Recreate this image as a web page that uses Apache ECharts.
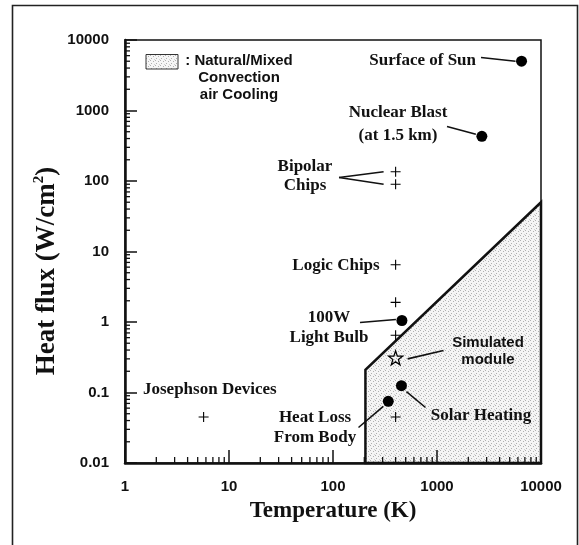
<!DOCTYPE html>
<html>
<head>
<meta charset="utf-8">
<script src="https://cdn.jsdelivr.net/npm/echarts@6/dist/echarts.min.js"></script>
<style>
  html, body { margin: 0; padding: 0; background: #fff; }
  #chart { width: 579px; height: 545px; }
</style>
</head>
<body>
<div id="chart"></div>
<script>
// Heat flux vs. temperature for everyday and electronic heat sources
const xTickLabels = ['1', '10', '100', '1000', '10000'];
const yTickLabels = ['0.01', '0.1', '1', '10', '100', '1000', '10000'];

// Filled circles: named heat sources
const circleNames = ['Surface of Sun', 'Nuclear Blast', '100W Light Bulb', 'Solar Heating', 'Heat Loss From Body'];
const circleTemps = [6500, 2700, 460, 455, 340];
const circleFlux  = [5000, 430, 1.05, 0.125, 0.075];

// Crosses: chip technologies
const plusNames = ['Bipolar (high)', 'Bipolar (low)', 'Logic Chips', 'Chip', 'Chip', 'Chip', 'Josephson Devices'];
const plusTemps = [400, 400, 400, 400, 400, 400, 5.7];
const plusFlux  = [135, 90, 6.5, 1.9, 0.65, 0.045, 0.045];

// Star: simulated module
const starTemps = [400];
const starFlux  = [0.31];

// Natural / mixed convection air cooling region boundary
const regionTemps = [205, 205, 10000, 10000];
const regionFlux  = [0.01, 0.21, 50, 0.01];

const SERIF = '"Liberation Serif", "Times New Roman", serif';
const SANS = '"Liberation Sans", Arial, sans-serif';
const INK = '#111';

// light stippled fill used for the cooling region and its legend swatch
function makeStipple() {
  const c = document.createElement('canvas');
  c.width = 5; c.height = 5;
  const g = c.getContext('2d');
  g.fillStyle = '#f5f5f5';
  g.fillRect(0, 0, 5, 5);
  g.fillStyle = '#b0b0b0';
  g.fillRect(0, 0, 1, 1);
  g.fillRect(3, 1, 1, 1);
  g.fillRect(1, 3, 1, 1);
  g.fillStyle = '#d0d0d0';
  g.fillRect(4, 4, 1, 1);
  return c;
}
const stipple = { image: makeStipple(), repeat: 'repeat' };

// Minor tick positions for the log axes (2..9 within each decade)
function minorTicks(fromExp, toExp) {
  const out = [];
  for (let e = fromExp; e < toExp; e++) {
    for (let m = 2; m <= 9; m++) out.push(m * Math.pow(10, e));
  }
  return out;
}
const xMinor = minorTicks(0, 4);
const yMinor = minorTicks(-2, 4);

const X_MIN = 1, X_MAX = 10000, Y_MIN = 0.01, Y_MAX = 10000;

const plusPath = 'path://M0,5L10,5M5,0L5,10';
const starPath = 'path://M10,0L12.35,6.76L19.51,6.91L13.8,11.24L15.88,18.09L10,14L4.12,18.09L6.2,11.24L0.49,6.91L7.65,6.76Z';

const chart = echarts.init(document.getElementById('chart'), null, { renderer: 'canvas' });

const option = {
  animation: false,
  backgroundColor: '#fff',
  grid: {
    left: 125, right: 38, top: 40, bottom: 82,
    show: true, borderColor: INK, borderWidth: 1.5, backgroundColor: 'transparent'
  },
  xAxis: {
    type: 'log', logBase: 10, min: X_MIN, max: X_MAX, splitNumber: 4, z: 10,
    axisLine: { lineStyle: { color: INK, width: 2.5 } },
    axisTick: { inside: true, length: 13, lineStyle: { color: INK, width: 1.5 } },
    splitLine: { show: false },
    axisLabel: {
      margin: 16, color: INK, fontFamily: SANS, fontWeight: 'bold', fontSize: 15,
      formatter: v => xTickLabels[Math.round(Math.log10(v))]
    },
    name: 'Temperature (K)', nameLocation: 'middle', nameGap: 37,
    nameTextStyle: { color: INK, fontFamily: SERIF, fontWeight: 'bold', fontSize: 23 }
  },
  yAxis: {
    type: 'log', logBase: 10, min: Y_MIN, max: Y_MAX, splitNumber: 6, z: 10,
    axisLine: { lineStyle: { color: INK, width: 2.5 } },
    axisTick: { inside: true, length: 12, lineStyle: { color: INK, width: 1.5 } },
    splitLine: { show: false },
    axisLabel: {
      margin: 16, color: INK, fontFamily: SANS, fontWeight: 'bold', fontSize: 15,
      formatter: v => yTickLabels[Math.round(Math.log10(v)) + 2]
    }
  },
  series: [
    {
      // shaded air-cooling region
      type: 'custom', name: 'Natural/Mixed Convection air Cooling', z: 1, silent: true,
      data: regionTemps.map((t, i) => [t, regionFlux[i]]),
      renderItem: (params, api) => {
        if (params.dataIndex !== 0) return null;
        const pts = regionTemps.map((t, i) => api.coord([t, regionFlux[i]]));
        return {
          type: 'polygon',
          shape: { points: pts },
          style: { fill: stipple, stroke: INK, lineWidth: 2.5, lineJoin: 'miter' }
        };
      }
    },
    {
      // x minor ticks
      type: 'custom', z: 11, silent: true,
      data: xMinor.map(v => [v, Y_MIN]),
      renderItem: (params, api) => {
        const p = api.coord([api.value(0), Y_MIN]);
        return { type: 'line', shape: { x1: p[0], y1: p[1], x2: p[0], y2: p[1] - 6 },
                 style: { stroke: INK, lineWidth: 1.3 } };
      }
    },
    {
      // y minor ticks
      type: 'custom', z: 11, silent: true,
      data: yMinor.map(v => [X_MIN, v]),
      renderItem: (params, api) => {
        const p = api.coord([X_MIN, api.value(1)]);
        return { type: 'line', shape: { x1: p[0], y1: p[1], x2: p[0] + 5, y2: p[1] },
                 style: { stroke: INK, lineWidth: 1.3 } };
      }
    },
    {
      type: 'scatter', name: 'Heat sources', z: 5,
      symbol: 'circle', symbolSize: 11,
      itemStyle: { color: '#000', opacity: 1 },
      data: circleTemps.map((t, i) => ({ name: circleNames[i], value: [t, circleFlux[i]] }))
    },
    {
      type: 'scatter', name: 'Chips', z: 5,
      symbol: plusPath, symbolSize: 10,
      itemStyle: { color: 'transparent', borderColor: '#000', borderWidth: 1.1, opacity: 1 },
      data: plusTemps.map((t, i) => ({ name: plusNames[i], value: [t, plusFlux[i]] }))
    },
    {
      type: 'scatter', name: 'Simulated module', z: 6,
      symbol: starPath, symbolSize: 14,
      itemStyle: { color: 'transparent', borderColor: '#000', borderWidth: 1.3, opacity: 1 },
      data: starTemps.map((t, i) => [t, starFlux[i]])
    }
  ]
};

chart.setOption(option);

// Annotations and leader lines
const toPx = v => chart.convertToPixel({ gridIndex: 0 }, v);
const circlePx = i => toPx([circleTemps[i], circleFlux[i]]);
const plusPx = i => toPx([plusTemps[i], plusFlux[i]]);
const starPx = i => toPx([starTemps[i], starFlux[i]]);
const off = (p, dx, dy) => [p[0] + dx, p[1] + dy];

const leaders = [
  [[481, 57.5], off(circlePx(0), -6, 0)],
  [[447, 126.5], off(circlePx(1), -6, -2)],
  [[339, 177.5], off(plusPx(0), -12, 0)],
  [[339, 177.5], off(plusPx(1), -12, 0)],
  [[360, 322.5], off(circlePx(2), -6, -1)],
  [off(starPx(0), 12, 1), [443.5, 350.5]],
  [off(circlePx(3), 5, 6), [425.5, 407.5]],
  [[358.5, 427.5], off(circlePx(4), -5, 5)]
];

function label(text, x, y, opts) {
  return {
    type: 'text', x, y, z: 20, silent: true,
    style: Object.assign({
      text, fill: INK, font: 'bold 17px ' + SERIF,
      align: 'center', verticalAlign: 'middle'
    }, opts || {})
  };
}

const graphics = [
  // outer frame
  { type: 'rect', z: -5, silent: true, shape: { x: 12.5, y: 5.5, width: 565, height: 600 },
    style: { fill: 'none', stroke: '#222', lineWidth: 1.6 } },
  // legend swatch and text
  { type: 'rect', z: 20, silent: true, shape: { x: 146, y: 54.5, width: 32, height: 14.5 },
    style: { fill: stipple, stroke: '#333', lineWidth: 1 } },
  label(': Natural/Mixed\nConvection\nair Cooling', 239, 77.5,
        { font: 'bold 15px ' + SANS, lineHeight: 17 }),
  // point labels
  label('Surface of Sun', 476, 61, { align: 'right' }),
  label('Nuclear Blast\n(at 1.5 km)', 398, 124.5, { lineHeight: 23 }),
  label('Bipolar\nChips', 305, 176.5, { lineHeight: 19 }),
  label('Logic Chips', 336, 266),
  label('100W\nLight Bulb', 329, 328, { lineHeight: 20 }),
  label('Simulated\nmodule', 488, 351.5, { font: 'bold 15px ' + SANS, lineHeight: 17 }),
  label('Solar Heating', 481, 415.5),
  label('Heat Loss\nFrom Body', 315, 427.5, { lineHeight: 20 }),
  label('Josephson Devices', 143, 390, { align: 'left' }),
  // y-axis title
  {
    type: 'text', x: 47, y: 271, rotation: Math.PI / 2, z: 20, silent: true,
    style: {
      text: '{t|Heat flux (W/cm}{s|2}{t|)}',
      align: 'center', verticalAlign: 'middle', fill: INK,
      rich: {
        t: { font: 'bold 27px ' + SERIF, fill: INK, lineHeight: 30 },
        s: { font: 'bold 15px ' + SERIF, fill: INK, verticalAlign: 'top', lineHeight: 30 }
      }
    }
  }
];

leaders.forEach(([a, b]) => {
  graphics.push({
    type: 'line', z: 19, silent: true,
    shape: { x1: a[0], y1: a[1], x2: b[0], y2: b[1] },
    style: { stroke: INK, lineWidth: 1.6 }
  });
});

chart.setOption({ graphic: graphics });
</script>
</body>
</html>
